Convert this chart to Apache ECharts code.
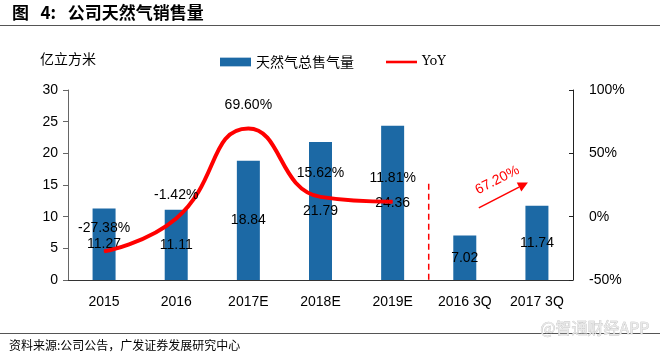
<!DOCTYPE html>
<html><head><meta charset="utf-8">
<script src="https://cdn.jsdelivr.net/npm/echarts@6/dist/echarts.min.js"></script>
<style>html,body{margin:0;padding:0;background:#fff}#c{width:660px;height:355px}</style>
</head><body><div id="c"></div>
<script>
const categories = ['2015','2016','2017E','2018E','2019E','2016 3Q','2017 3Q'];
const volume = [11.27, 11.11, 18.84, 21.79, 24.36, 7.02, 11.74];
const yoy = [-27.38, -1.42, 69.60, 15.62, 11.81, null, null];
const leftTicks = {min: 0, max: 30, interval: 5};
const rightTicks = {min: -50, max: 100, interval: 50};
const quarterGrowth = '67.20%';

const chart = echarts.init(document.getElementById('c'), null, {renderer: 'canvas'});
const cjk = '"Noto Sans CJK SC", sans-serif';
const latin = '"Liberation Sans", Arial, sans-serif';
const grid = {left: 68, right: 87, top: 90, bottom: 75};

chart.setOption({
  animation: false,
  backgroundColor: '#fff',
  grid: grid,
  legend: {
    left: 215, top: 50, itemGap: 32, itemWidth: 31, itemHeight: 9, itemTextGap: 5,
    textStyle: {fontFamily: cjk, fontSize: 14, color: '#000'},
    data: [
      {name: '天然气总售气量', icon: 'path://M0,0 L32,0 L32,9 L0,9 Z'},
      {name: 'YoY', icon: 'path://M0,0 L0,0 M0,3 L36,3 L36,6 L0,6 Z M0,9 L0,9', itemStyle: {color: '#ff0000'},
        textStyle: {fontFamily: '"DejaVu Serif", "Liberation Serif", serif', fontSize: 13}}
    ]
  },
  xAxis: {
    type: 'category', data: categories,
    axisLine: {lineStyle: {color: '#333', width: 1}},
    axisTick: {show: false},
    axisLabel: {fontFamily: latin, fontSize: 14, color: '#000', margin: 15}
  },
  yAxis: [{
    type: 'value', min: leftTicks.min, max: leftTicks.max, interval: leftTicks.interval,
    name: '亿立方米', nameLocation: 'end', nameGap: 24,
    nameTextStyle: {fontFamily: cjk, fontSize: 14, color: '#000', align: 'center'},
    axisLine: {show: true, lineStyle: {color: '#666'}},
    axisTick: {show: true, length: 5, lineStyle: {color: '#666'}},
    splitLine: {show: false},
    axisLabel: {fontFamily: latin, fontSize: 14, color: '#000', margin: 10}
  }, {
    type: 'value', min: rightTicks.min, max: rightTicks.max, interval: rightTicks.interval,
    position: 'right',
    axisLine: {show: true, lineStyle: {color: '#222'}},
    axisTick: {show: true, inside: true, length: 4, lineStyle: {color: '#222'}},
    splitLine: {show: false},
    axisLabel: {fontFamily: latin, fontSize: 14, color: '#000', margin: 16, formatter: '{value}%'}
  }],
  series: [{
    name: '天然气总售气量', type: 'bar', data: volume, barWidth: 23,
    itemStyle: {color: '#1c69a5'},
    label: {show: true, position: 'inside', fontFamily: latin, fontSize: 14, color: '#000'},
    z: 2
  }, {
    name: 'YoY', type: 'line', yAxisIndex: 1, data: yoy, smooth: 0.5,
    symbol: 'circle', symbolSize: 1, showSymbol: true, connectNulls: false,
    lineStyle: {color: '#ff0000', width: 4},
    itemStyle: {color: '#ff0000'},
    label: {show: true, position: 'top', distance: 16, fontFamily: latin, fontSize: 14, color: '#000',
      formatter: p => (p.value == null ? '' : Number(p.value).toFixed(2) + '%')},
    labelLayout: {hideOverlap: false},
    z: 3
  }]
});

function place() {
  const xa = chart.convertToPixel({xAxisIndex: 0}, categories[4]);
  const xb = chart.convertToPixel({xAxisIndex: 0}, categories[5]);
  const xc = chart.convertToPixel({xAxisIndex: 0}, categories[6]);
  const sepX = (xa + xb) / 2;
  const yTop = chart.convertToPixel({yAxisIndex: 1}, 26);
  const yBot = chart.convertToPixel({yAxisIndex: 1}, rightTicks.min);
  const ax1 = xb + 14, ay1 = chart.convertToPixel({yAxisIndex: 1}, 7);
  const ax2 = xc - 9, ay2 = chart.convertToPixel({yAxisIndex: 1}, 27);
  const ang = Math.atan2(ay2 - ay1, ax2 - ax1);
  const L = 10, W = 5;
  const bx = ax2 - L * Math.cos(ang), by = ay2 - L * Math.sin(ang);
  const px = -Math.sin(ang) * W, py = Math.cos(ang) * W;
  chart.setOption({
    graphic: [
      {type: 'text', left: 12, top: 4, style: {text: '图   4:   公司天然气销售量', font: 'bold 17px "Noto Sans CJK SC"', fill: '#000'}},
      {type: 'line', shape: {x1: 0, y1: 25.5, x2: 660, y2: 25.5}, style: {stroke: '#555', lineWidth: 1}},
      {type: 'line', shape: {x1: 0, y1: 333.5, x2: 660, y2: 333.5}, style: {stroke: '#555', lineWidth: 1}},
      {type: 'text', left: 9, top: 339, style: {text: '资料来源:公司公告，广发证券发展研究中心', font: '12px "Noto Sans CJK SC"', fill: '#000'}},
      {type: 'text', left: 540, top: 320, style: {text: '@智通财经APP', font: '16px "Noto Sans CJK SC"', fill: '#e8e8e8', stroke: '#bbb', lineWidth: 0.6}},
      {type: 'line', shape: {x1: sepX, y1: yTop, x2: sepX, y2: yBot}, style: {stroke: '#ff0000', lineWidth: 1.5, lineDash: [6, 4]}},
      {type: 'line', shape: {x1: ax1, y1: ay1, x2: bx, y2: by}, style: {stroke: '#ff0000', lineWidth: 1.5}},
      {type: 'polygon', shape: {points: [[ax2, ay2], [bx + px, by + py], [bx - px, by - py]]}, style: {fill: '#ff0000'}},
      {type: 'text', x: (ax1 + ax2) / 2 - 6, y: (ay1 + ay2) / 2 - 15, rotation: -ang,
        style: {text: quarterGrowth, font: '14px "Liberation Sans"', fill: '#ff0000', align: 'center', verticalAlign: 'middle'}}
    ]
  });
}
place();
</script>
</body></html>
